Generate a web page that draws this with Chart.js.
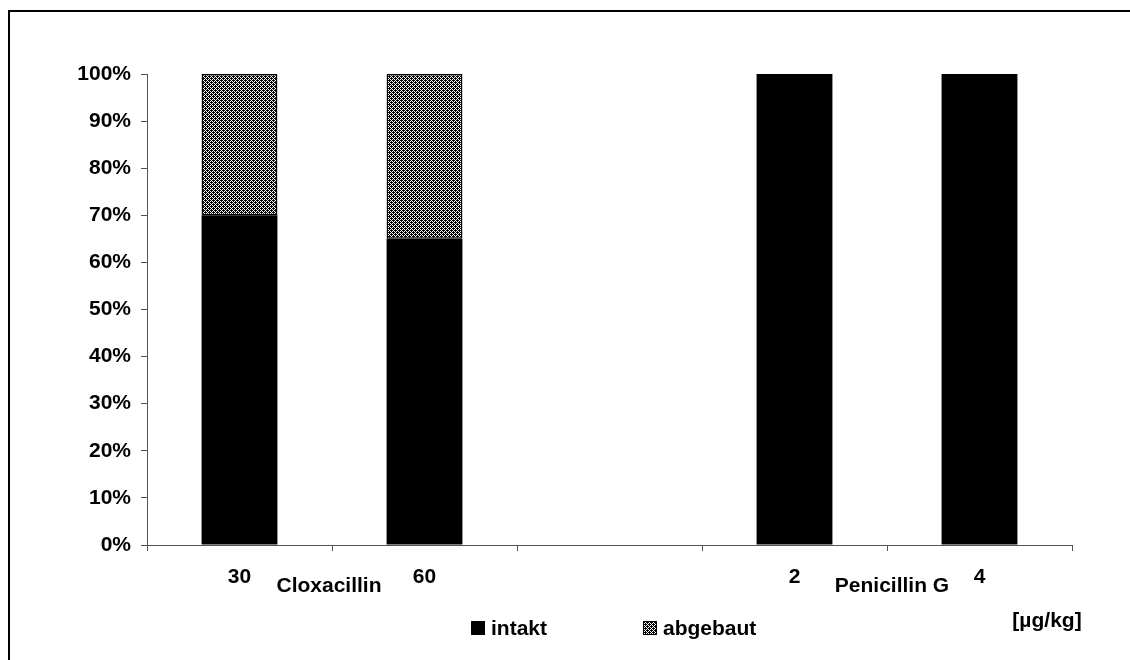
<!DOCTYPE html>
<html>
<head>
<meta charset="utf-8">
<script src="https://cdn.jsdelivr.net/npm/chart.js@4.4.1/dist/chart.umd.min.js"></script>
<style>
  html, body { margin: 0; padding: 0; background: #fff; }
  #wrap { width: 1130px; height: 660px; position: relative; }
</style>
</head>
<body>
<div id="wrap"><canvas id="c" width="1130" height="660"></canvas></div>
<script>
// Dose levels per substance (third slot is an empty spacer between the groups)
const categories = ['30', '60', '', '2', '4'];
const intakt = [70, 65, null, 100, 100];
const abgebaut = [30, 35, null, 0, 0];
const yTicks = [0, 10, 20, 30, 40, 50, 60, 70, 80, 90, 100];
const groups = [
  { label: 'Cloxacillin', from: 0, to: 1 },
  { label: 'Penicillin G', from: 3, to: 4 }
];
const unitLabel = '[µg/kg]';

const FONT = 'bold 21px "Liberation Sans", Arial, sans-serif';

// Checker dither with a faint diagonal grain for the "abgebaut" segment
function makeHatch() {
  const p = document.createElement('canvas');
  p.width = 4; p.height = 4;
  const g = p.getContext('2d');
  g.fillStyle = '#fff';
  g.fillRect(0, 0, 4, 4);
  g.fillStyle = '#000';
  for (let y = 0; y < 4; y++) {
    for (let x = 0; x < 4; x++) {
      const checker = (x + y) % 2 === 0;
      const grain = (x === 1 && y === 0) || (x === 3 && y === 2);
      if (checker || grain) g.fillRect(x, y, 1, 1);
    }
  }
  return document.getElementById('c').getContext('2d').createPattern(p, 'repeat');
}
const hatch = makeHatch();

const framePlugin = {
  id: 'frame',
  beforeDraw(chart) {
    const ctx = chart.ctx;
    ctx.save();
    ctx.fillStyle = '#fff';
    ctx.fillRect(0, 0, chart.width, chart.height);
    ctx.strokeStyle = '#000';
    ctx.lineWidth = 2;
    ctx.strokeRect(9, 11, chart.width + 20, chart.height + 20);
    ctx.restore();
  }
};

const extrasPlugin = {
  id: 'extras',
  afterDraw(chart) {
    const ctx = chart.ctx;
    const x = chart.scales.x;
    const nudge = [-3, 5];
    ctx.save();
    ctx.font = FONT;
    ctx.fillStyle = '#000';
    ctx.textBaseline = 'middle';
    ctx.textAlign = 'center';
    // substance names between their dose labels
    groups.forEach((g, i) => {
      const cx = (x.getPixelForValue(g.from) + x.getPixelForValue(g.to)) / 2;
      ctx.fillText(g.label, cx + nudge[i], 586);
    });
    // unit
    ctx.fillText(unitLabel, 1047, 621);
    // legend
    ctx.textAlign = 'left';
    const items = [
      { text: chart.data.datasets[0].label, fill: chart.data.datasets[0].backgroundColor, x: 471 },
      { text: chart.data.datasets[1].label, fill: chart.data.datasets[1].backgroundColor, x: 643 }
    ];
    items.forEach(it => {
      ctx.fillStyle = it.fill;
      ctx.fillRect(it.x, 621, 14, 14);
      ctx.strokeStyle = '#000';
      ctx.lineWidth = 1;
      ctx.strokeRect(it.x + 0.5, 621.5, 13, 13);
      ctx.fillStyle = '#000';
      ctx.fillText(it.text, it.x + 20, 629);
    });
    ctx.restore();
  }
};

new Chart(document.getElementById('c'), {
  type: 'bar',
  data: {
    labels: categories,
    datasets: [
      {
        label: 'intakt',
        data: intakt,
        backgroundColor: '#000',
        borderColor: '#000',
        borderWidth: 0,
        barPercentage: 0.41,
        categoryPercentage: 1.0
      },
      {
        label: 'abgebaut',
        data: abgebaut,
        backgroundColor: hatch,
        borderColor: '#000',
        borderWidth: 1.5,
        borderSkipped: false,
        barPercentage: 0.41,
        categoryPercentage: 1.0
      }
    ]
  },
  options: {
    responsive: false,
    animation: false,
    devicePixelRatio: 1,
    layout: { padding: { left: 0, right: 58, top: 74, bottom: 0 } },
    plugins: {
      legend: { display: false },
      tooltip: { enabled: false }
    },
    scales: {
      x: {
        stacked: true,
        afterFit(s) { s.height = 115; },
        grid: {
          offset: true,
          drawOnChartArea: false,
          drawTicks: true,
          tickLength: 6,
          color: '#555'
        },
        border: { color: '#555', width: 1 },
        ticks: {
          font: { family: '"Liberation Sans", Arial, sans-serif', size: 21, weight: 'bold' },
          color: '#000',
          padding: 14,
          maxRotation: 0,
          autoSkip: false
        }
      },
      y: {
        stacked: true,
        min: 0,
        max: 100,
        afterFit(s) { s.width = 147; },
        afterBuildTicks(s) { s.ticks = yTicks.map(v => ({ value: v })); },
        grid: {
          drawOnChartArea: false,
          drawTicks: true,
          tickLength: 6,
          color: '#555'
        },
        border: { color: '#555', width: 1 },
        ticks: {
          font: { family: '"Liberation Sans", Arial, sans-serif', size: 21, weight: 'bold' },
          color: '#000',
          padding: 10,
          callback: v => v + '%'
        }
      }
    }
  },
  plugins: [framePlugin, extrasPlugin]
});
</script>
</body>
</html>
